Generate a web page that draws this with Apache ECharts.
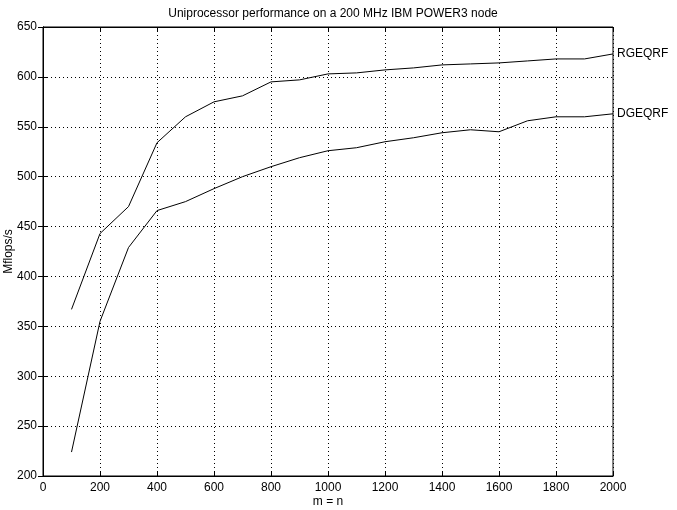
<!DOCTYPE html>
<html>
<head>
<meta charset="utf-8">
<script src="https://cdn.jsdelivr.net/npm/echarts@6/dist/echarts.min.js"></script>
<style>
html, body { margin: 0; padding: 0; background: #fff; }
#chart { width: 677px; height: 510px; }
</style>
</head>
<body>
<div id="chart"></div>
<script>
var sizes = [100, 200, 300, 400, 500, 600, 700, 800, 900, 1000,
  1100, 1200, 1300, 1400, 1500, 1600, 1700, 1800, 1900, 2000];
var rgeqrf = [367, 443, 470, 534, 560, 575, 581, 595, 597, 603,
  604, 607, 609, 612, 613, 614, 616, 618, 618, 623];
var dgeqrf = [224, 355, 429, 466, 475, 488, 500, 510, 519, 526,
  529, 535, 539, 544, 547, 545, 556, 560, 560, 563];

function pairs(ys) {
  var out = [];
  for (var i = 0; i < sizes.length; i++) out.push([sizes[i], ys[i]]);
  return out;
}

var myChart = echarts.init(document.getElementById('chart'));
var font = 'Liberation Sans, Helvetica, Arial, sans-serif';
var dotted = { color: '#000', width: 1, type: [1, 3] };
var plain = function (v) { return String(v); };

var option = {
  backgroundColor: '#fff',
  animation: false,
  textStyle: { fontFamily: font, color: '#000' },
  title: {
    text: 'Uniprocessor performance on a 200 MHz IBM POWER3 node',
    left: 328, top: 3, textAlign: 'center',
    textStyle: { fontSize: 12, fontWeight: 'normal', color: '#000', fontFamily: font }
  },
  grid: {
    left: 43, right: 64, top: 27, bottom: 34,
    outerBoundsMode: 'none', containLabel: false,
    show: true, borderColor: '#000', borderWidth: 1
  },
  xAxis: [{
    type: 'value', min: 0, max: 2000, interval: 200,
    name: 'm = n', nameLocation: 'middle', nameGap: 20, nameMoveOverlap: false,
    nameTextStyle: { fontSize: 12, color: '#000' },
    axisLine: { show: true, lineStyle: { color: '#000' } },
    axisTick: { show: true, inside: true, length: 5, lineStyle: { color: '#000' } },
    axisLabel: { fontSize: 12, color: '#000', margin: 6, formatter: plain },
    splitLine: { show: true, lineStyle: dotted }
  }, {
    type: 'value', position: 'top', min: 0, max: 2000, interval: 200,
    axisLine: { show: true, lineStyle: { color: '#000' } },
    axisTick: { show: true, inside: true, length: 5, lineStyle: { color: '#000' } },
    axisLabel: { show: false }, splitLine: { show: false }
  }],
  yAxis: [{
    type: 'value', min: 200, max: 650, interval: 50,
    name: 'Mflops/s', nameLocation: 'middle', nameGap: 28, nameMoveOverlap: false,
    nameTextStyle: { fontSize: 12, color: '#000' },
    axisLine: { show: true, lineStyle: { color: '#000' } },
    axisTick: { show: true, inside: true, length: 5, lineStyle: { color: '#000' } },
    axisLabel: { fontSize: 12, color: '#000', margin: 6, formatter: plain },
    splitLine: { show: true, lineStyle: dotted }
  }, {
    type: 'value', position: 'right', min: 200, max: 650, interval: 50,
    axisLine: { show: true, lineStyle: { color: '#000' } },
    axisTick: { show: true, inside: true, length: 5, lineStyle: { color: '#000' } },
    axisLabel: { show: false }, splitLine: { show: false }
  }],
  series: [{
    name: 'RGEQRF', type: 'line', data: pairs(rgeqrf),
    showSymbol: false, symbol: 'none',
    lineStyle: { color: '#000', width: 1 },
    endLabel: { show: true, formatter: '{a}', fontSize: 12, color: '#000', distance: 4, fontFamily: font }
  }, {
    name: 'DGEQRF', type: 'line', data: pairs(dgeqrf),
    showSymbol: false, symbol: 'none',
    lineStyle: { color: '#000', width: 1 },
    endLabel: { show: true, formatter: '{a}', fontSize: 12, color: '#000', distance: 4, fontFamily: font }
  }]
};

myChart.setOption(option);
</script>
</body>
</html>
